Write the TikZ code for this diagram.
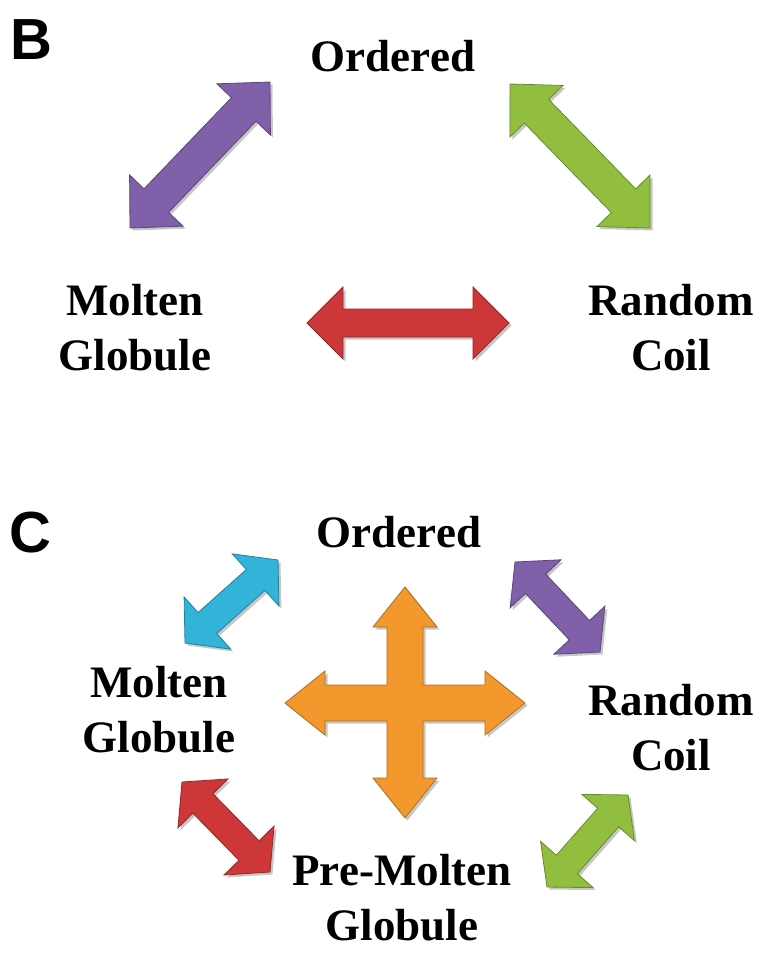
\documentclass[tikz,border=0pt]{standalone}
\usepackage{fontspec}
\setmainfont{Liberation Serif}
\newfontfamily\panelfont{Liberation Sans}
\usetikzlibrary{calc,shadows}

\definecolor{arrpurple}{RGB}{128,96,168}
\definecolor{arrgreen}{RGB}{146,190,64}
\definecolor{arrred}{RGB}{205,55,55}
\definecolor{arrcyan}{RGB}{49,180,216}
\definecolor{arrorange}{RGB}{243,152,44}

\tikzset{
  arrowbody/.style={fill=#1, draw=#1!72!black, line width=0.8pt, line join=miter,
    drop shadow={shadow xshift=2.5pt, shadow yshift=-2.5pt, opacity=0.22, fill=black}},
  % anchor base sits on the baseline of the last line
  statelabel/.style={font=\bfseries\fontsize{45}{55}\selectfont, align=center,
    inner sep=0pt, anchor=base},
  panellabel/.style={font=\panelfont\bfseries\fontsize{58}{60}\selectfont,
    inner sep=0pt, anchor=base west}
}

% Double-headed block arrow between two tips.
% #1 name, #2 colour, #3 tip a, #4 tip b, #5 head length, #6 head half-width, #7 shaft half-width
\newcommand{\dblarrow}[7]{%
  \coordinate (#1-a) at #3;
  \coordinate (#1-b) at #4;
  \coordinate (#1-ha) at ($(#1-a)!#5!(#1-b)$);
  \coordinate (#1-hb) at ($(#1-b)!#5!(#1-a)$);
  \path[arrowbody=#2] (#1-a)
    -- ($(#1-ha)!#6!90:(#1-b)$) -- ($(#1-ha)!#7!90:(#1-b)$)
    -- ($(#1-hb)!#7!-90:(#1-a)$) -- ($(#1-hb)!#6!-90:(#1-a)$)
    -- (#1-b)
    -- ($(#1-hb)!#6!90:(#1-a)$) -- ($(#1-hb)!#7!90:(#1-a)$)
    -- ($(#1-ha)!#7!-90:(#1-b)$) -- ($(#1-ha)!#6!-90:(#1-b)$)
    -- cycle;
}

\begin{document}
\begin{tikzpicture}[x=1pt,y=-1pt]
\useasboundingbox (0,0) rectangle (760,960);

% ---------- panel B ----------
\node[panellabel] (lblB) at (10,60) {B};
\node[statelabel] (bOrd) at (393,72) {Ordered};
\node[statelabel] (bMG) at (135,370) {Molten\\Globule};
\node[statelabel] (bRC) at (671,370) {Random\\Coil};

\dblarrow{bp}{arrpurple}{(130,228)}{(270,82)}{38pt}{37pt}{17pt}
\dblarrow{bg}{arrgreen}{(510,84)}{(650,228)}{38pt}{37pt}{17pt}
\dblarrow{br}{arrred}{(307,323)}{(509,323)}{36pt}{36pt}{14pt}

% ---------- panel C ----------
\node[panellabel] (lblC) at (9,552) {C};
\node[statelabel] (cOrd) at (399,547) {Ordered};
\node[statelabel] (cMG) at (159,752) {Molten\\Globule};
\node[statelabel] (cRC) at (671,770) {Random\\Coil};
\node[statelabel] (cPMG) at (402,940) {Pre-Molten\\Globule};

\dblarrow{cc}{arrcyan}{(185,643)}{(278,560)}{30pt}{35pt}{14pt}
\dblarrow{cp}{arrpurple}{(515,562)}{(600,652)}{30pt}{35pt}{14pt}
\dblarrow{cr}{arrred}{(182,782)}{(270,872)}{30pt}{35pt}{14pt}
\dblarrow{cg}{arrgreen}{(547,887)}{(628,795)}{30pt}{35pt}{14pt}

% four-way cross in the middle
\path[arrowbody=arrorange]
  (405,587) -- (437,627) -- (423,627) -- (423,685) -- (485,685) -- (485,671)
  -- (525,703) -- (485,735) -- (485,721) -- (423,721) -- (423,778) -- (437,778)
  -- (405,818) -- (373,778) -- (387,778) -- (387,721) -- (325,721) -- (325,735)
  -- (285,703) -- (325,671) -- (325,685) -- (387,685) -- (387,627) -- (373,627)
  -- cycle;
\end{tikzpicture}
\end{document}
